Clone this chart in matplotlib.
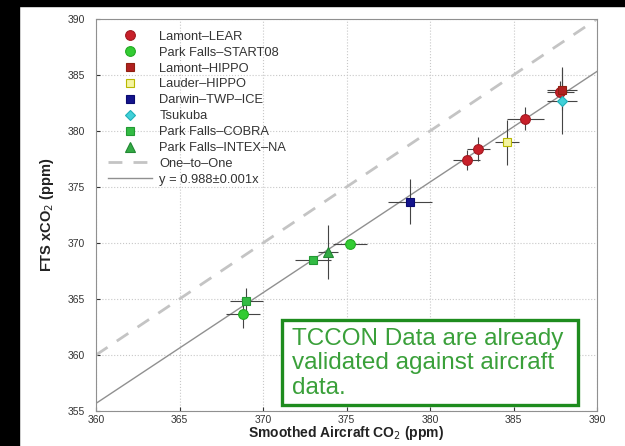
import matplotlib.pyplot as plt
from matplotlib.patches import Rectangle

plt.rcParams['font.family'] = ['Liberation Sans', 'DejaVu Sans']

# aircraft (x), FTS (y), errors
lear_x = [382.2, 382.9, 385.7, 387.8]
lear_y = [377.4, 378.4, 381.1, 383.5]
lear_xe = [0.8, 0.7, 1.1, 0.8]
lear_ye = [0.9, 1.1, 1.0, 1.0]

start_x = [368.8, 375.2]
start_y = [363.7, 369.9]
start_xe = [1.0, 1.0]
start_ye = [1.3, 0.3]

hippo_x = [387.9]
hippo_y = [383.7]
hippo_xe = [0.9]
hippo_ye = [1.8]

lauder_x = [384.6]
lauder_y = [379.0]
lauder_xe = [0.7]
lauder_ye = [2.0]

darwin_x = [378.8]
darwin_y = [373.7]
darwin_xe = [1.3]
darwin_ye = [2.0]

tsukuba_x = [387.9]
tsukuba_y = [382.7]
tsukuba_xe = [0.9]
tsukuba_ye = [3.0]

cobra_x = [373.0, 369.0]
cobra_y = [368.5, 364.8]
cobra_xe = [1.1, 1.0]
cobra_ye = [0.2, 1.2]

intex_x = [373.9]
intex_y = [369.2]
intex_xe = [0.6]
intex_ye = [2.4]

slope = 0.988

fig = plt.figure(figsize=(6.25, 4.46), dpi=100)
fig.patches.append(Rectangle((0, 0), 19/625, 1, transform=fig.transFigure, color='black', zorder=-1))
fig.patches.append(Rectangle((0, 1-6/446), 1, 6/446, transform=fig.transFigure, color='black', zorder=-1))
ax = fig.add_axes([96/625, 1-411/446, 501/625, 392/446])

ecol = '#444444'
def series(x, y, xe, ye, marker, fc, ec, label, ms=7):
    ax.errorbar(x, y, xerr=xe, yerr=ye, fmt='none', ecolor=ecol, elinewidth=0.8, capsize=0, zorder=3)
    ax.plot(x, y, linestyle='none', marker=marker, ms=ms, mfc=fc, mec=ec, mew=0.8, label=label, zorder=4)

series(lear_x, lear_y, lear_xe, lear_ye, 'o', '#c8202a', '#a01820', 'Lamont\u2013LEAR')
series(start_x, start_y, start_xe, start_ye, 'o', '#33cc33', '#22aa22', 'Park Falls\u2013START08')
series(hippo_x, hippo_y, hippo_xe, hippo_ye, 's', '#b02020', '#902010', 'Lamont\u2013HIPPO', ms=6)
series(lauder_x, lauder_y, lauder_xe, lauder_ye, 's', '#f4f4a0', '#b8b800', 'Lauder\u2013HIPPO', ms=6)
series(darwin_x, darwin_y, darwin_xe, darwin_ye, 's', '#14148c', '#0a0a70', 'Darwin\u2013TWP\u2013ICE', ms=6)
series(tsukuba_x, tsukuba_y, tsukuba_xe, tsukuba_ye, 'D', '#40d0d8', '#20b0b8', 'Tsukuba', ms=5.5)
series(cobra_x, cobra_y, cobra_xe, cobra_ye, 's', '#33bb44', '#229933', 'Park Falls\u2013COBRA', ms=6)
series(intex_x, intex_y, intex_xe, intex_ye, '^', '#33aa44', '#228833', 'Park Falls\u2013INTEX\u2013NA', ms=7)

xx = [360, 390]
ax.plot(xx, xx, '--', color='#c4c4c4', lw=2.0, dashes=(5, 4), label='One\u2013to\u2013One', zorder=2)
ax.plot(xx, [slope * v for v in xx], '-', color='#909090', lw=1.0, label='y = 0.988\u00b10.001x', zorder=2)

ax.set_xlim(360, 390)
ax.set_ylim(355, 390)
ax.set_xticks(range(360, 391, 5))
ax.set_yticks(range(355, 391, 5))
ax.grid(True, linestyle=':', color='#c8c8c8', lw=0.8)
ax.tick_params(labelsize=7.5, colors='#333333', length=3, direction='in')
ax.tick_params(axis='y', pad=8)
ax.tick_params(axis='x', pad=3)
for s in ax.spines.values():
    s.set_color('#909090')

ax.set_xlabel('Smoothed Aircraft CO$_2$ (ppm)', fontsize=10, fontweight='bold', labelpad=-1, color='#222222')
ax.set_ylabel('FTS xCO$_2$ (ppm)', fontsize=10.5, fontweight='bold', labelpad=8, color='#222222')

leg = ax.legend(loc='upper left', frameon=False, fontsize=9.3, handlelength=3.4,
                labelspacing=0.3, borderaxespad=0.4, borderpad=0.5, handletextpad=0.6)
for t in leg.get_texts():
    t.set_color('#333333')

# annotation box
ax.add_patch(Rectangle((0.371, 0.015), 0.591, 0.217, transform=ax.transAxes,
                       fc='white', ec='#1e8c1e', lw=2.4, zorder=6))
ax.text(0.391, 0.122, 'TCCON Data are already\nvalidated against aircraft\ndata.',
        transform=ax.transAxes, fontsize=17.5, color='#3aa03a', va='center', ha='left',
        linespacing=1.15, zorder=7)

fig.savefig('out.png', dpi=100)
